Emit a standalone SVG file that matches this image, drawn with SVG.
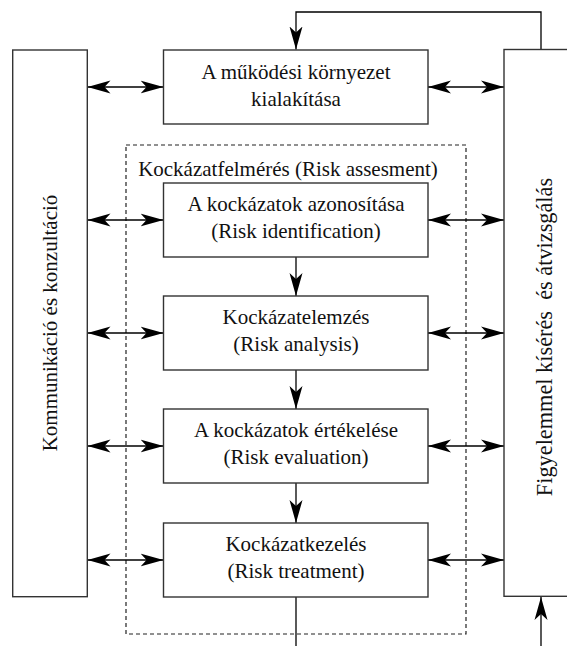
<svg xmlns="http://www.w3.org/2000/svg" width="567" height="646" viewBox="0 0 567 646">
<style>
.box{fill:#fff;stroke:#333;stroke-width:1.4}
.dash{fill:none;stroke:#222;stroke-width:1.2;stroke-dasharray:4,3}
.ln{fill:none;stroke:#000;stroke-width:1.3}
.t{font-family:"Liberation Serif","Times New Roman",serif;font-size:21px;fill:#111;text-anchor:middle}
</style>
<defs>
<marker id="ah" viewBox="0 -7 24 14" refX="23" refY="0" markerWidth="24" markerHeight="14" markerUnits="userSpaceOnUse" orient="auto-start-reverse">
<path d="M0,-6.5 L23,0 L0,6.5 L6,0 z" fill="#000"/>
</marker>
</defs>
<rect class="dash" x="126" y="145" width="340" height="489"/>
<g id="connectors">
<path class="ln" d="M541,50 V12 H296 V49.5" marker-end="url(#ah)"/>
<path class="ln" d="M541,646 V597" marker-end="url(#ah)"/>
<path class="ln" d="M296,597 V646"/>
<path class="ln" d="M87.5,87 H163.5" marker-start="url(#ah)" marker-end="url(#ah)"/>
<path class="ln" d="M428,87 H504" marker-start="url(#ah)" marker-end="url(#ah)"/>
<path class="ln" d="M87.5,220 H163.5" marker-start="url(#ah)" marker-end="url(#ah)"/>
<path class="ln" d="M428,220 H504" marker-start="url(#ah)" marker-end="url(#ah)"/>
<path class="ln" d="M87.5,333 H163.5" marker-start="url(#ah)" marker-end="url(#ah)"/>
<path class="ln" d="M428,333 H504" marker-start="url(#ah)" marker-end="url(#ah)"/>
<path class="ln" d="M87.5,446 H163.5" marker-start="url(#ah)" marker-end="url(#ah)"/>
<path class="ln" d="M428,446 H504" marker-start="url(#ah)" marker-end="url(#ah)"/>
<path class="ln" d="M87.5,560 H163.5" marker-start="url(#ah)" marker-end="url(#ah)"/>
<path class="ln" d="M428,560 H504" marker-start="url(#ah)" marker-end="url(#ah)"/>
<path class="ln" d="M296,257 V296" marker-end="url(#ah)"/>
<path class="ln" d="M296,370 V409" marker-end="url(#ah)"/>
<path class="ln" d="M296,483 V523" marker-end="url(#ah)"/>
</g>
<g id="assessment-label">
<text class="t" x="288" y="176">Kockázatfelmérés (Risk assesment)</text>
</g>
<g id="communication">
<rect class="box" x="12.7" y="50" width="74.6" height="546.7"/>
<text class="t" transform="translate(50,323) rotate(-90)" y="7">Kommunikáció és konzultáció</text>
</g>
<g id="monitoring">
<rect class="box" x="504" y="49.5" width="70" height="546.8"/>
<text class="t" transform="translate(545,337) rotate(-90)" y="7" style="font-size:22.3px" xml:space="preserve">Figyelemmel kísérés  és átvizsgálás</text>
</g>
<g id="context">
<rect class="box" x="163.5" y="50" width="264.5" height="74"/>
<text class="t" x="296" y="79">A működési környezet</text>
<text class="t" x="296" y="106">kialakítása</text>
</g>
<g id="identification">
<rect class="box" x="163.5" y="183" width="264.5" height="74"/>
<text class="t" x="296" y="211">A kockázatok azonosítása</text>
<text class="t" x="296" y="238">(Risk identification)</text>
</g>
<g id="analysis">
<rect class="box" x="163.5" y="296" width="264.5" height="74"/>
<text class="t" x="296" y="324">Kockázatelemzés</text>
<text class="t" x="296" y="351">(Risk analysis)</text>
</g>
<g id="evaluation">
<rect class="box" x="163.5" y="409" width="264.5" height="74"/>
<text class="t" x="296" y="437">A kockázatok értékelése</text>
<text class="t" x="296" y="464">(Risk evaluation)</text>
</g>
<g id="treatment">
<rect class="box" x="163.5" y="523" width="264.5" height="74"/>
<text class="t" x="296" y="551">Kockázatkezelés</text>
<text class="t" x="296" y="578">(Risk treatment)</text>
</g>
</svg>
